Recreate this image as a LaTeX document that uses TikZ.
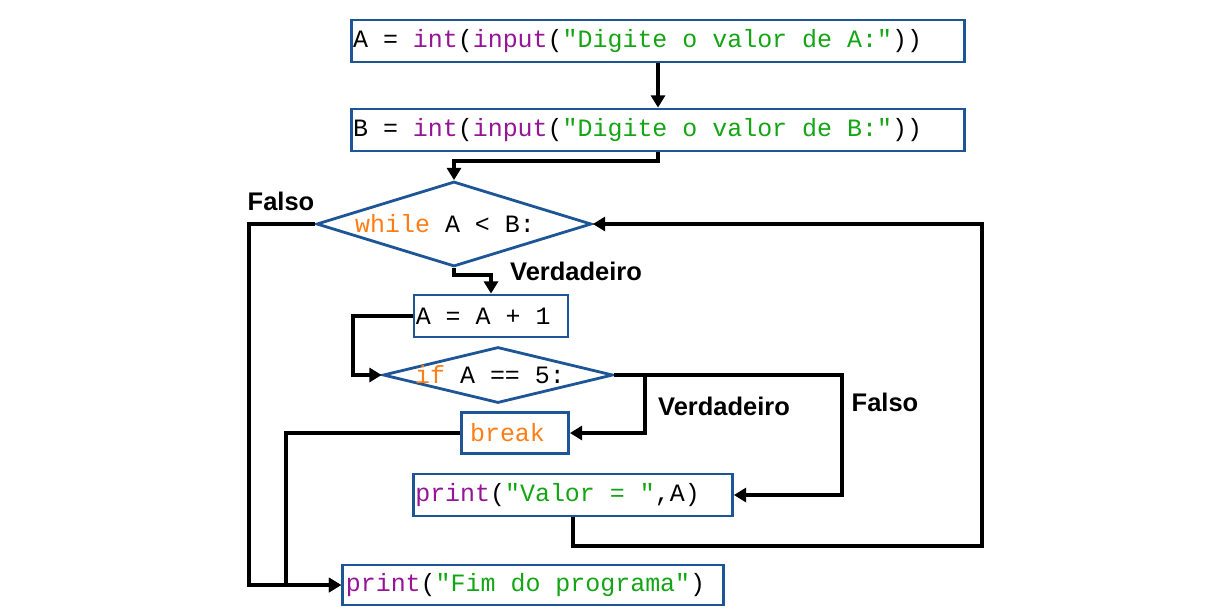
\documentclass[tikz,border=0pt]{standalone}
\usepackage{fontspec}
\setsansfont{Liberation Sans}
\setmonofont{Liberation Mono}
\usepackage{tikz}
\usetikzlibrary{positioning, shapes.geometric, arrows.meta}
\definecolor{boxblue}{RGB}{30,85,150}
\definecolor{pypurple}{RGB}{150,20,150}
\definecolor{pygreen}{RGB}{20,165,20}
\definecolor{pyorange}{RGB}{255,125,20}
\newcommand{\pyfn}[1]{\textcolor{pypurple}{#1}}
\newcommand{\pystr}[1]{\textcolor{pygreen}{#1}}
\newcommand{\pykw}[1]{\textcolor{pyorange}{#1}}

\begin{document}
\begin{tikzpicture}[x = 0.02cm, y = -0.02cm,
    every node/.style = { font = \fontsize{14.2}{17}\selectfont\ttfamily },
    codebox/.style = { draw = boxblue, line width = 1.6pt, minimum height = 0.84cm, inner xsep = 1pt, inner ysep = 0pt, align = flush left },
    cond/.style = { draw = boxblue, line width = 1.6pt, shape = diamond, inner sep = 0pt },
    flow/.style = { draw, line width = 2.2pt, -{Triangle[length = 7pt, width = 8pt]} },
    lbl/.style = { font = \fontsize{14.5}{17}\selectfont\sffamily\bfseries }]
    \useasboundingbox (0,0) rectangle (1206,610);

    \node [codebox, text width = 12.2cm] (lerA) at (658,41) { A = \pyfn{int}(\pyfn{input}(\pystr{"Digite o valor de A:"})) };
    \node [codebox, text width = 12.2cm] (lerB) at (658,130) { B = \pyfn{int}(\pyfn{input}(\pystr{"Digite o valor de B:"})) };
    \node [cond, minimum width = 5.5cm, minimum height = 1.7cm] (laco) at (454,224) {};
    \node (lacotxt) at (445,224) { \pykw{while} A < B: };
    \node [codebox, text width = 3.01cm] (soma) at (491,316) { A = A + 1 };
    \node [cond, minimum width = 4.6cm, minimum height = 1.12cm] (teste) at (498,375) {};
    \node (testetxt) at (490,375) { \pykw{if} A == 5: };
    \node [codebox, minimum width = 2.14cm, minimum height = 0.82cm] (parar) at (515,433) { \pykw{break} };
    \node [codebox, text width = 6.31cm] (mostra) at (573,495) { \pyfn{print}(\pystr{"Valor = "},A) };
    \node [codebox, minimum width = 7.62cm, minimum height = 0.8cm] (fim) at (533,585) { \pyfn{print}(\pystr{"Fim do programa"}) };

    \node [lbl] (falso1) at (281,201) { Falso };
    \node [lbl] (verd1) at (576,271) { Verdadeiro };
    \node [lbl] (verd2) at (724,406) { Verdadeiro };
    \node [lbl] (falso2) at (885,402) { Falso };

    \coordinate (volta) at (982,546);
    \draw [flow] (lerA) -- (lerB);
    \draw [flow] (lerB.south) -- ++(0,9) -| (laco.north);
    \draw [flow] (laco.west) -- ++(-66,0) |- (fim.west);
    \draw [flow] (laco.south) -- ++(0,7) -| (soma.north);
    \draw [flow] (soma.west) -- ++(-60,0) |- (teste.west);
    \draw [flow] (teste.east) -- ++(31,0) |- (parar.east);
    \draw [flow] (teste.east) -- ++(228,0) |- (mostra.east);
    \draw [flow] (parar.west) -- ++(-174,0) |- (fim.west);
    \draw [flow] (mostra.south) |- (volta) |- (laco.east);
\end{tikzpicture}
\end{document}
